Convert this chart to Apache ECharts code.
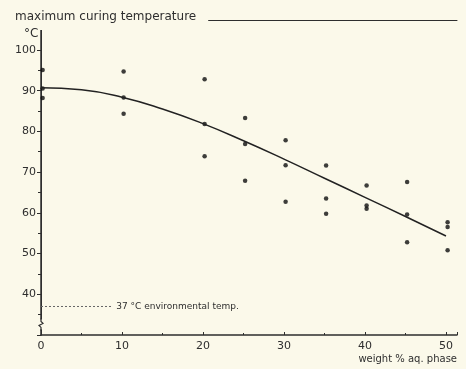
<!DOCTYPE html>
<html>
<head>
<meta charset="utf-8">
<script src="https://cdn.jsdelivr.net/npm/echarts@6/dist/echarts.min.js"></script>
<style>
  html, body { margin: 0; padding: 0; background: #fbf9ea; }
  #chart { width: 466px; height: 369px; }
</style>
</head>
<body>
<div id="chart"></div>
<script>
// measured points: weight % aq. phase vs max curing temperature
var weightPct = [0, 0, 0, 10, 10, 10, 20, 20, 20, 25, 25, 25, 30, 30, 30, 35, 35, 35, 40, 40, 40, 45, 45, 45, 50, 50, 50];
var maxTemp = [95.1, 90.5, 88.2, 94.7, 88.3, 84.3, 92.8, 81.8, 73.9, 83.3, 76.9, 67.9,
  77.8, 71.7, 62.7, 71.6, 63.5, 59.8, 66.7, 61.8, 61.0, 67.6, 59.6, 52.8, 57.7, 56.5, 50.8];

// fitted curve
var curveX = [0, 5, 10, 15, 20, 25, 30, 35, 40, 45, 50];
var curveY = [90.7, 90.2, 88.4, 85.5, 81.9, 77.7, 73.2, 68.5, 63.8, 59.1, 54.3];

// environmental temperature reference
var envX = [0, 8.8];
var envY = [37, 37];

var ink = '#2e2e2e';
var bg = '#fbf9ea';
var font = 'DejaVu Sans';

var chart = echarts.init(document.getElementById('chart'));

var points = weightPct.map(function (w, i) { return [w + 0.2, maxTemp[i]]; });
var curve = curveX.map(function (w, i) { return [w, curveY[i]]; });
var env = envX.map(function (w, i) { return [w, envY[i]]; });

var option = {
  backgroundColor: bg,
  animation: false,
  title: [{
    text: 'maximum curing temperature',
    left: 12,
    top: 9,
    padding: [2, 12, 7, 3],
    backgroundColor: bg,
    textStyle: { fontFamily: font, fontSize: 12, fontWeight: 'normal', color: ink }
  }, {
    text: '°C',
    left: 24,
    top: 28,
    padding: 0,
    textStyle: { fontFamily: font, fontSize: 12, fontWeight: 'normal', color: ink }
  }],
  grid: { left: 41, right: 9, top: 20, bottom: 34 },
  xAxis: [{
    type: 'value',
    min: 0,
    max: 51.36,
    interval: 10,
    axisLine: { show: true, lineStyle: { color: ink, width: 1.5 } },
    axisTick: { show: true, inside: true, length: 3, lineStyle: { color: ink } },
    minorTick: { show: true, splitNumber: 2, length: 2, lineStyle: { color: ink } },
    axisLabel: {
      fontFamily: font, fontSize: 11, color: ink, margin: 6,
      formatter: function (v) { return v > 50 ? '' : v; }
    },
    splitLine: { show: false },
    name: 'weight % aq. phase',
    nameLocation: 'end',
    nameGap: 0,
    nameTextStyle: { fontFamily: font, fontSize: 10, color: ink, align: 'right', verticalAlign: 'top', padding: [19, 0, 0, 0] }
  }, {
    type: 'value',
    position: 'top',
    min: 0,
    max: 51.36,
    axisLine: { show: true, lineStyle: { color: ink, width: 1 } },
    axisTick: { show: false },
    axisLabel: { show: false },
    splitLine: { show: false }
  }],
  yAxis: [{
    type: 'value',
    min: 30,
    max: 107.35,
    interval: 10,
    axisLine: { show: true, lineStyle: { color: ink, width: 1.5 } },
    axisTick: { show: true, length: 4, lineStyle: { color: ink } },
    minorTick: { show: true, splitNumber: 2, length: 3, lineStyle: { color: ink } },
    axisLabel: {
      fontFamily: font, fontSize: 11, color: ink, margin: 5,
      formatter: function (v) { return (v < 40 || v > 100) ? '' : v; }
    },
    splitLine: { show: false }
  }, {
    type: 'value',
    position: 'right',
    min: 30,
    max: 107.35,
    axisLine: { show: true, lineStyle: { color: ink, width: 1 } },
    axisTick: { show: false },
    axisLabel: { show: false },
    splitLine: { show: false }
  }],
  series: [{
    name: 'curve',
    type: 'line',
    smooth: true,
    showSymbol: false,
    data: curve,
    lineStyle: { color: '#222', width: 1.5 }
  }, {
    name: 'measured',
    type: 'scatter',
    symbolSize: 4.5,
    itemStyle: { color: '#0e0e0e' },
    data: points
  }, {
    name: 'environment',
    type: 'line',
    showSymbol: false,
    data: env,
    lineStyle: { color: '#666', width: 1, type: [2, 2] },
    endLabel: {
      show: true,
      formatter: '37 °C environmental temp.',
      fontFamily: font,
      fontSize: 9,
      color: ink,
      distance: 4
    }
  }]
};

chart.setOption(option);

// axis break mark on the y axis
var p = chart.convertToPixel({ gridIndex: 0 }, [0, 32.6]);
chart.setOption({
  graphic: [{
    type: 'rect',
    shape: { x: p[0] - 2, y: p[1] - 5, width: 4, height: 10 },
    style: { fill: bg },
    z: 10
  }, {
    type: 'polyline',
    shape: { points: [[p[0], p[1] - 6], [p[0], p[1] - 3], [p[0] + 2, p[1] - 1], [p[0] - 2, p[1] + 1], [p[0], p[1] + 3], [p[0], p[1] + 6]] },
    style: { stroke: ink, lineWidth: 1.2, fill: null },
    z: 11
  }]
});
</script>
</body>
</html>
